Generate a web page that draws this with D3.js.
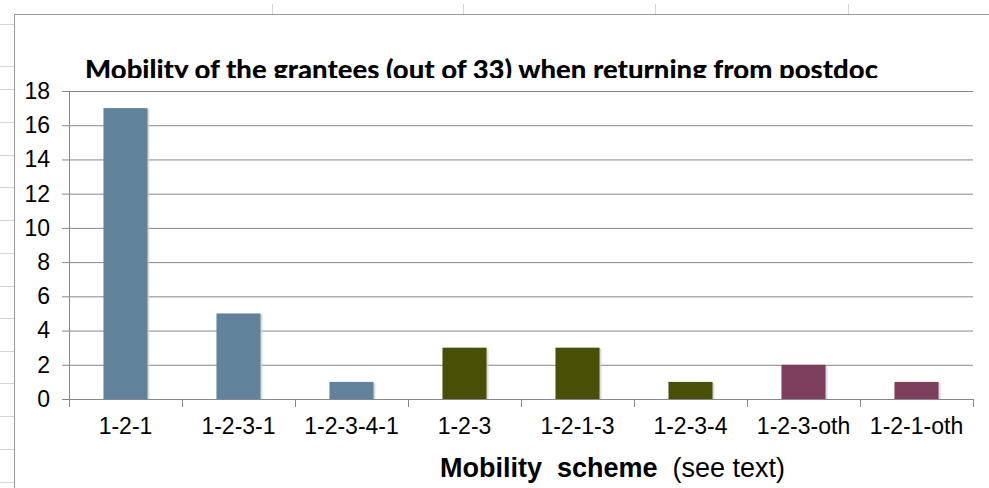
<!DOCTYPE html>
<html>
<head>
<meta charset="utf-8">
<title>Mobility of the grantees</title>
<style>
  body { margin: 0; background: #fff; }
  svg { display: block; }
  .tick text { font-family: "Liberation Sans", Arial, sans-serif; fill: #000; }
</style>
</head>
<body>
<script src="https://cdn.jsdelivr.net/npm/d3@7/dist/d3.min.js"></script>
<script>
// data
let schemes = ["1-2-1", "1-2-3-1", "1-2-3-4-1", "1-2-3", "1-2-1-3", "1-2-3-4", "1-2-3-oth", "1-2-1-oth"];
let counts = [17, 5, 1, 3, 3, 1, 2, 1];
let groups = ["back", "back", "back", "away", "away", "away", "other", "other"];
let yTicks = [0, 2, 4, 6, 8, 10, 12, 14, 16, 18];

let width = 989, height = 488;
let svg = d3.select("body").append("svg").attr("width", width).attr("height", height);

// spreadsheet lines behind the chart
let rowLines = [24, 66, 89, 122, 155, 187, 220, 253, 286, 318, 351, 383, 416, 449, 482];
svg.selectAll(".row").data(rowLines).enter().append("line")
  .attr("x1", 0).attr("x2", 14).attr("y1", d => d + 0.5).attr("y2", d => d + 0.5)
  .attr("stroke", "#d4d4d4");
let colLines = [272, 463, 655, 848];
svg.selectAll(".col").data(colLines).enter().append("line")
  .attr("x1", d => d + 0.5).attr("x2", d => d + 0.5).attr("y1", 4).attr("y2", 14)
  .attr("stroke", "#d4d4d4");

// chart frame
svg.append("line").attr("x1", 14).attr("x2", width).attr("y1", 14.5).attr("y2", 14.5).attr("stroke", "#9a9a9a");
svg.append("line").attr("x1", 14.5).attr("x2", 14.5).attr("y1", 14).attr("y2", height).attr("stroke", "#9a9a9a");

let plot = { left: 69, right: 973, top: 91, bottom: 399 };

let x = d3.scaleBand().domain(schemes).range([plot.left, plot.right]).paddingInner(0.61).paddingOuter(0.305);
let y = d3.scaleLinear().domain([0, 18]).range([plot.bottom, plot.top]);
let color = d3.scaleOrdinal().domain(["back", "away", "other"]).range(["#60829a", "#4a4f06", "#7e3e5e"]);

// horizontal gridlines + left ticks
let yAxis = d3.axisLeft(y).tickValues(yTicks).tickSize(-(plot.right - plot.left)).tickPadding(18);
let gy = svg.append("g").attr("transform", "translate(" + plot.left + ",0)").call(yAxis);
gy.select(".domain").remove();
gy.selectAll(".tick line").attr("stroke", "#878787").attr("x1", -7);
gy.selectAll(".tick text").attr("font-size", 23).attr("x", -19);

// title, clipped at the top of the plot like the original
svg.append("clipPath").attr("id", "titleClip")
  .append("rect").attr("x", 0).attr("y", 15).attr("width", width).attr("height", 63);
svg.append("text")
  .attr("clip-path", "url(#titleClip)")
  .attr("x", 85).attr("y", 79)
  .attr("textLength", 793).attr("lengthAdjust", "spacingAndGlyphs")
  .attr("font-family", "Lato, 'Open Sans', sans-serif")
  .attr("font-weight", "900").attr("font-size", 27)
  .text("Mobility of the grantees (out of 33) when returning from postdoc");

// bars with a soft shadow
svg.append("g").selectAll("rect").data(counts).enter().append("rect")
  .attr("x", (d, i) => x(schemes[i]) + 2)
  .attr("y", d => y(d) + 1)
  .attr("width", x.bandwidth())
  .attr("height", d => y(0) - y(d) - 1)
  .attr("fill", "#cfcfcf").attr("opacity", 0.7);
svg.append("g").selectAll("rect").data(counts).enter().append("rect")
  .attr("x", (d, i) => x(schemes[i]))
  .attr("y", d => y(d))
  .attr("width", x.bandwidth())
  .attr("height", d => y(0) - y(d))
  .attr("fill", (d, i) => color(groups[i]));

// y axis line
svg.append("line").attr("x1", plot.left + 0.5).attr("x2", plot.left + 0.5)
  .attr("y1", plot.top).attr("y2", plot.bottom + 8).attr("stroke", "#878787");

// x axis with ticks between categories
let xAxis = d3.axisBottom(x).tickSize(0).tickPadding(19);
let gx = svg.append("g").attr("transform", "translate(0," + plot.bottom + ")").call(xAxis);
gx.select(".domain").attr("stroke", "#878787").attr("d", "M" + (plot.left - 7) + ",0.5H" + plot.right);
gx.selectAll(".tick text").attr("font-size", 23);
let edges = d3.range(schemes.length + 1).map(i => plot.left + i * (plot.right - plot.left) / schemes.length);
svg.selectAll(".xsep").data(edges).enter().append("line")
  .attr("x1", d => Math.round(d) + 0.5).attr("x2", d => Math.round(d) + 0.5)
  .attr("y1", plot.bottom).attr("y2", plot.bottom + 8).attr("stroke", "#878787");

// axis title
let xt = svg.append("text").attr("x", 440).attr("y", 477)
  .attr("font-family", "'Liberation Sans', Arial, sans-serif").attr("font-size", 27);
xt.append("tspan").attr("font-weight", "bold").text("Mobility\u00a0\u00a0scheme");
xt.append("tspan").text("\u00a0\u00a0(see text)");
</script>
</body>
</html>
